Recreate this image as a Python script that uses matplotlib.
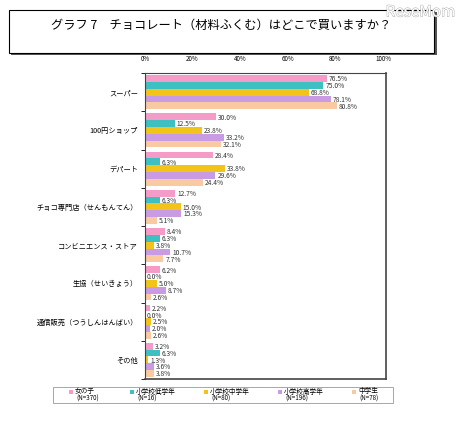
import matplotlib
matplotlib.use('Agg')
import matplotlib.pyplot as plt
import matplotlib.patheffects as pe
from matplotlib.patches import Rectangle
import numpy as np

plt.rcParams['font.family'] = ['Noto Sans CJK JP', 'DejaVu Sans']

# データ（グラフ7）
categories = [
    "スーパー",
    "100円ショップ",
    "デパート",
    "チョコ専門店（せんもんてん）",
    "コンビニエンス・ストア",
    "生協（せいきょう）",
    "通信販売（つうしんはんばい）",
    "その他",
]
series_names = ["女の子", "小学校低学年", "小学校中学年", "小学校高学年", "中学生"]
series_n = ["(N=370)", "(N=16)", "(N=80)", "(N=196)", "(N=78)"]
colors = ["#F49BC8", "#3EC0C0", "#F2C41A", "#C99BE3", "#F9C9A1"]

girls = [76.5, 30.0, 28.4, 12.7, 8.4, 6.2, 2.2, 3.2]
elem_low = [75.0, 12.5, 6.3, 6.3, 6.3, 0.0, 0.0, 6.3]
elem_mid = [68.8, 23.8, 33.8, 15.0, 3.8, 5.0, 2.5, 1.3]
elem_high = [78.1, 33.2, 29.6, 15.3, 10.7, 8.7, 2.0, 3.6]
junior = [80.8, 32.1, 24.4, 5.1, 7.7, 2.6, 2.6, 3.8]
values = [girls, elem_low, elem_mid, elem_high, junior]

xticks = [0, 20, 40, 60, 80, 100]

W, H = 459, 425
fig = plt.figure(figsize=(W / 100, H / 100), dpi=100)


def fx(px):
    return px / W


def fy(py):
    return 1 - py / H


# タイトル枠（影付き）
fig.patches.append(Rectangle((fx(11), fy(55)), fx(426), 43 / H, transform=fig.transFigure,
                             facecolor='#555555', edgecolor='none', zorder=0))
fig.patches.append(Rectangle((fx(9), fy(53)), fx(425), 43 / H, transform=fig.transFigure,
                             facecolor='white', edgecolor='black', linewidth=0.8, zorder=1))
fig.text(fx(221), fy(25), "グラフ 7　チョコレート（材料ふくむ）はどこで買いますか？",
         ha='center', va='center', fontsize=8.8, zorder=2)

# ウォーターマーク
fig.text(fx(455), fy(12), "ReseMom", ha='right', va='center', fontsize=11,
         color='white', zorder=3,
         path_effects=[pe.withStroke(linewidth=0.7, foreground='#b0b0b0')])

# グラフ本体
ax = fig.add_axes([fx(145), fy(379), fx(241), 306 / H])
n_cat = len(categories)
bar_h = 0.178
ypos = np.arange(n_cat)

for i, (vals, col) in enumerate(zip(values, colors)):
    y = ypos - 2 * bar_h + i * bar_h
    ax.barh(y, vals, height=bar_h, color=col, edgecolor='none')
    for yy, v in zip(y, vals):
        ax.text(v + 0.8, yy + 0.02, f"{v:.1f}%", va='center', ha='left', fontsize=4.8,
                color='#333333')

ax.set_xlim(0, 101.3)
ax.set_ylim(n_cat - 0.5, -0.5)
ax.set_xticks(xticks)
ax.set_xticklabels([f"{t}%" for t in xticks], fontsize=4.5)
ax.tick_params(axis='x', top=True, labeltop=True, bottom=False, labelbottom=False,
               length=0, pad=7)
ax.set_yticks(ypos)
ax.set_yticklabels(categories, fontsize=5.2)
ax.tick_params(axis='y', length=0, pad=5)
ax.set_yticks(np.arange(n_cat + 1) - 0.5, minor=True)
ax.tick_params(axis='y', which='minor', length=3, width=0.6, direction='out')
for s in ax.spines.values():
    s.set_color('#444444')
    s.set_linewidth(0.8)
ax.spines['right'].set_linewidth(1.2)
ax.spines['bottom'].set_linewidth(1.2)

# 凡例
fig.patches.append(Rectangle((fx(53), fy(403)), fx(340), 16 / H, transform=fig.transFigure,
                             facecolor='white', edgecolor='#999999', linewidth=0.6))
marker_x = [71, 132, 206, 280, 354]
for mx, name, nn, col in zip(marker_x, series_names, series_n, colors):
    fig.patches.append(Rectangle((fx(mx - 2), fy(393.5)), fx(4), 4 / H,
                                 transform=fig.transFigure, facecolor=col, edgecolor='none'))
    fig.text(fx(mx + 4), fy(391.5), name, ha='left', va='center', fontsize=4.8)
    fig.text(fx(mx + 5), fy(398.5), nn, ha='left', va='center', fontsize=4.5)

fig.savefig("out.png", dpi=100)
